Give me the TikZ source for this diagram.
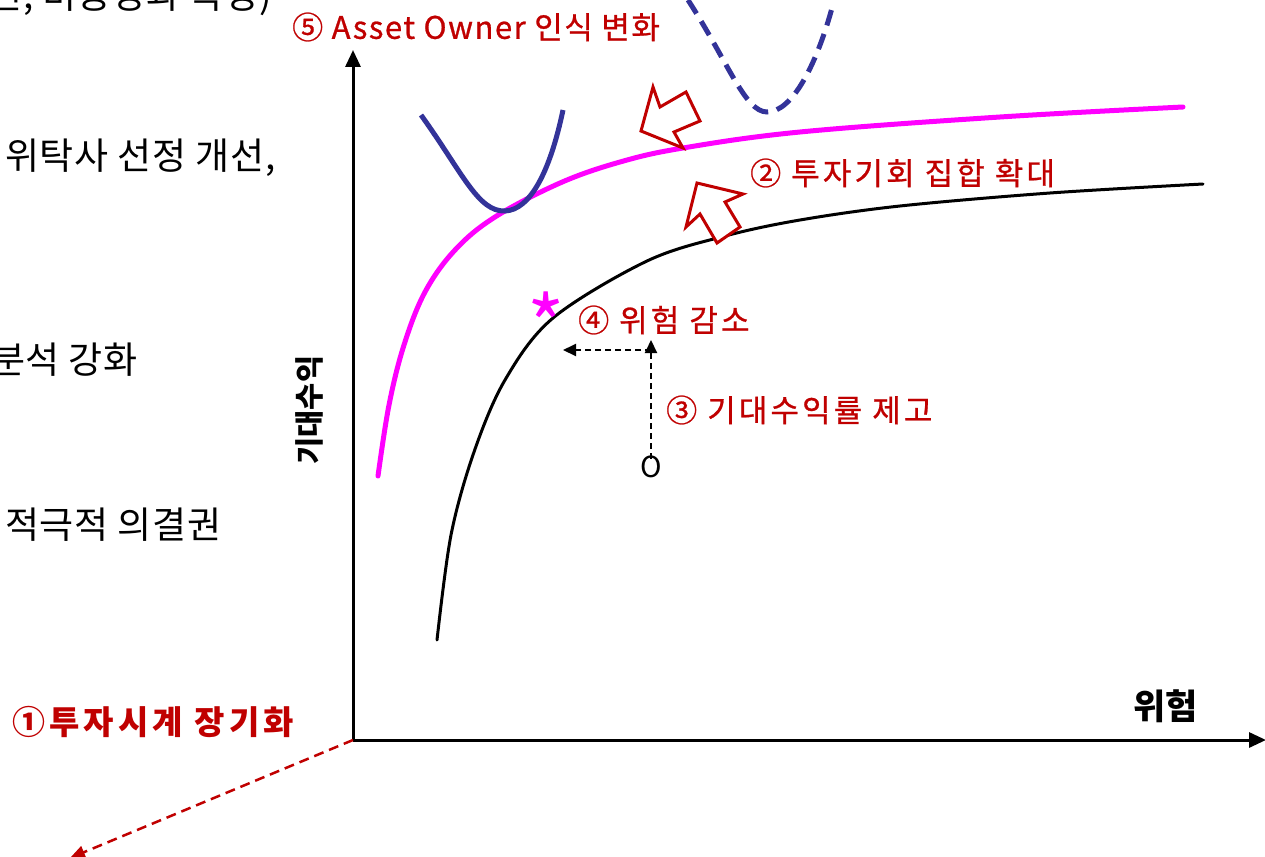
\documentclass[tikz,border=0pt]{standalone}
\usepackage{fontspec}
\setmainfont{Noto Sans CJK KR}
\newfontfamily\krwide[LetterSpace=10,FakeBold=0.8]{Noto Sans CJK KR}
\newfontfamily\krmid[LetterSpace=5,FakeBold=0.8]{Noto Sans CJK KR}
\newfontfamily\krslight[LetterSpace=2]{Noto Sans CJK KR}
\newfontfamily\krbold[LetterSpace=12.5]{Noto Sans CJK KR}
\usetikzlibrary{arrows.meta}
\definecolor{dred}{HTML}{C00000}
\definecolor{mag}{HTML}{FF00FF}
\definecolor{navy}{HTML}{333399}
\tikzset{
  redlbl/.style={text=dred, font=\krwide\fontsize{31}{31}\selectfont, anchor=west, inner sep=0pt},
  sidetxt/.style={text=black, font=\krslight\fontsize{37}{37}\selectfont, inner sep=0pt},
  axislbl/.style={text=black, font=\fontsize{35}{35}\selectfont\bfseries, inner sep=0pt},
  axisline/.style={line width=3pt, -{Triangle[length=17pt,width=15pt]}},
  guide/.style={line width=2pt, dash pattern=on 6pt off 4pt, -{Triangle[length=13pt,width=12pt]}},
  blockarrow/.style={draw=dred, line width=3pt, fill=white, line join=miter},
  frontier/.style={line width=3pt, line cap=round},
  utility/.style={draw=navy, line width=5pt},
}
\begin{document}
\begin{tikzpicture}[x=1pt,y=-1pt]
\useasboundingbox (0,0) rectangle (1265,856);
\clip (0,0) rectangle (1265,856);
\fill[white] (0,0) rectangle (1265,856);

% left side fragments
\node[sidetxt, anchor=base east] (t0) at (272,9) {선, 비용성과 측정)};
\node[sidetxt, anchor=west] (t1) at (5,158) {위탁사 선정 개선,};
\node[sidetxt, anchor=east] (t2) at (138,360) {분석 강화};
\node[sidetxt, anchor=west] (t3) at (5,525) {적극적 의결권};

% axes
\coordinate (orig) at (353,740);
\coordinate (ytop) at (353,50);
\coordinate (xend) at (1266,740);
\coordinate (far) at (70,858);
\draw[axisline] (orig) -- (ytop);
\draw[axisline] (orig) -- (xend);
\draw[dred, line width=2.5pt, dash pattern=on 10pt off 6pt, -{Triangle[length=15pt,width=13pt]}] (orig) -- (far);

\node[axislbl, anchor=west] (risk) at (1133,706) {위험};
\node[axislbl, rotate=90, font=\fontsize{29.5}{29.5}\selectfont\bfseries] (ret) at (309,410) {기대수익};
\node[anchor=west, inner sep=0pt, text=dred, font=\krbold\fontsize{33}{33}\selectfont\bfseries] (l1) at (12,722) {①투자시계 장기화};

% curves
\draw[mag, frontier, line width=5pt] plot[smooth, tension=0.6] coordinates {(378,476) (389,405) (404,345) (425,292) (455,250) (495,217) (560,183) (620,162) (683,148) (800,132) (1000,117) (1183,107)};
\draw[black, frontier] plot[smooth, tension=0.55] coordinates {(437,640) (451,535) (474,452) (505,380) (553,318) (647,261) (725,236) (800,220) (900,206) (1050,193) (1203,184)};

\draw[utility, line cap=butt] (421,115) .. controls (462,172) and (478,212) .. (505,211) .. controls (530,210) and (550,172) .. (563,110);
\draw[utility, dash pattern=on 16pt off 9pt] (688,0) .. controls (728,62) and (745,112) .. (767,112) .. controls (792,112) and (816,66) .. (832,8);

% block arrows
\draw[blockarrow] (641,131) -- (653,87) -- (660,107) -- (686,92) -- (700,121) -- (674,132) -- (683,148) -- cycle;
\draw[blockarrow] (697,183) -- (743,194) -- (725,202) -- (740,227) -- (717,243) -- (700,214) -- (686,227) -- cycle;

% star
\node[text=mag, inner sep=0pt, font=\fontsize{80}{80}\selectfont] (star) at (546,324) {*};

% O and guides
\node[inner sep=0pt, font=\fontsize{29}{29}\selectfont] (o) at (651,467) {O};
\coordinate (up) at (651,340);
\coordinate (corner) at (651,350);
\coordinate (lft) at (563,350);
\draw[guide] ([yshift=-3pt]o.north) -- (up);
\draw[guide] (corner) -- (lft);

% red labels
\node[redlbl, font=\krmid\fontsize{31}{31}\selectfont] (l5) at (292,27) {⑤ Asset Owner 인식 변화};
\node[redlbl] (l2) at (750,173) {② 투자기회 집합 확대};
\node[redlbl] (l4) at (578,320) {④ 위험 감소};
\node[redlbl] (l3) at (666,410) {③ 기대수익률 제고};
\end{tikzpicture}
\end{document}
